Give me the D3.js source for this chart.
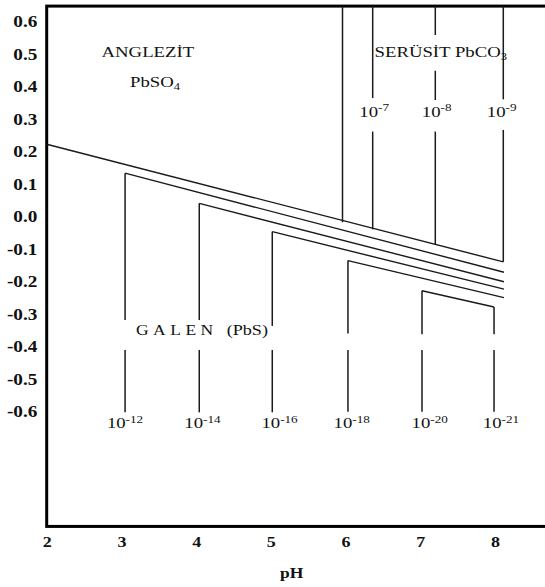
<!DOCTYPE html>
<html>
<head>
<meta charset="utf-8">
<script src="https://cdn.jsdelivr.net/npm/d3@7"></script>
<style>
  body { margin: 0; background: #fff; }
  svg { display: block; font-family: "Liberation Serif", "Times New Roman", serif; }
</style>
</head>
<body>
<div id="chart"></div>
<script>
// axis ticks
var phTicks = [2, 3, 4, 5, 6, 7, 8];
var ehTicks = [0.6, 0.5, 0.4, 0.3, 0.2, 0.1, 0.0, -0.1, -0.2, -0.3, -0.4, -0.5, -0.6];
var ehTickLabels = ["0.6", "0.5", "0.4", "0.3", "0.2", "0.1", "0.0", "-0.1", "-0.2", "-0.3", "-0.4", "-0.5", "-0.6"];

// frame extent (pH, Eh)
var phMin = 2, phMax = 8.75;
var ehMin = -0.953, ehMax = 0.648;

// sloping boundaries: start and end points
var slopeStartPH = [2.000, 3.049, 4.042, 5.019, 6.032, 7.023];
var slopeStartEh = [0.223, 0.134, 0.041, -0.046, -0.135, -0.228];
var slopeEndPH   = [8.111, 8.120, 8.120, 8.120, 8.120, 7.987];
var slopeEndEh   = [-0.139, -0.171, -0.200, -0.223, -0.249, -0.278];

// cerussite verticals (pieces between label gaps, Eh top/bottom)
var cerPH = [5.959, 6.363, 7.201, 8.111];
var cerPieces = [
  [[0.648, -0.017]],
  [[0.648, 0.365], [0.262, -0.039]],
  [[0.648, 0.559], [0.449, 0.359], [0.262, -0.087]],
  [[0.648, 0.361], [0.267, -0.139]]
];
var cerExp = ["-7", "-8", "-9"];
var cerLabelPH = [6.383, 7.219, 8.089];
var cerLabelEh = 0.308;

// galena verticals
var galPH = [3.049, 4.042, 5.019, 6.032, 7.023, 7.987];
var galPieces = [
  [[0.134, -0.318], [-0.410, -0.602]],
  [[0.041, -0.318], [-0.410, -0.602]],
  [[-0.046, -0.336], [-0.410, -0.602]],
  [[-0.135, -0.359], [-0.410, -0.600]],
  [[-0.228, -0.362], [-0.410, -0.600]],
  [[-0.278, -0.362], [-0.410, -0.600]]
];
var galExp = ["-12", "-14", "-16", "-18", "-20", "-21"];
var galLabelPH = [3.048, 4.085, 5.116, 6.082, 7.126, 8.080];
var galLabelEh = -0.651;

// region names
var regionNames = [
  {main: "ANGLEZİT", sub: "", ph: 3.354, eh: 0.492},
  {main: "PbSO", sub: "4", ph: 3.449, eh: 0.399},
  {main: "SERÜSİT PbCO", sub: "3", ph: 7.274, eh: 0.492}
];

var width = 545, height = 587;
var k = 1.25; // horizontal stretch of the lettering

var svg = d3.select("#chart")
  .append("svg")
    .attr("width", width)
    .attr("height", height);

var x = d3.scaleLinear().domain([2, 8]).range([46.7, 495]);
var y = d3.scaleLinear().domain([-0.6, 0.6]).range([411.7, 21.7]);

var ink = "#1a1a1a";

// Y axis labels
var yAxis = svg.append("g")
    .attr("transform", "translate(" + x(phMin) + ",0)")
    .call(d3.axisLeft(y).tickValues(ehTicks).tickSize(0)
      .tickFormat(function(d, i) { return ehTickLabels[i]; }));
yAxis.select(".domain").remove();
yAxis.selectAll("text")
    .attr("x", -9.4 / 1.2)
    .attr("transform", "scale(1.2,1)")
    .style("font-family", "Liberation Serif")
    .style("font-size", "16px")
    .style("font-weight", "bold")
    .attr("fill", "#111");

// X axis labels
var xAxis = svg.append("g")
    .attr("transform", "translate(0," + y(ehMin) + ")")
    .call(d3.axisBottom(x).tickValues(phTicks).tickSize(0).tickPadding(10)
      .tickFormat(d3.format("d")));
xAxis.select(".domain").remove();
xAxis.selectAll("text")
    .attr("transform", "scale(1.2,1)")
    .style("font-family", "Liberation Serif")
    .style("font-size", "15px")
    .style("font-weight", "bold")
    .attr("fill", "#111");

svg.append("text")
    .attr("transform", "translate(" + x(5.28) + "," + 578.3 + ") scale(" + k + ",1)")
    .attr("text-anchor", "middle")
    .style("font-size", "14px")
    .style("font-weight", "bold")
    .attr("fill", "#111")
    .text("pH");

// frame
svg.append("rect")
    .attr("x", x(phMin))
    .attr("y", y(ehMax))
    .attr("width", x(phMax) - x(phMin))
    .attr("height", y(ehMin) - y(ehMax))
    .attr("fill", "none")
    .attr("stroke", "#000")
    .attr("stroke-width", 3);

// sloping boundaries
svg.selectAll(".slope")
  .data(slopeStartPH)
  .enter()
  .append("line")
    .attr("class", "slope")
    .attr("x1", function(d, i) { return x(slopeStartPH[i]); })
    .attr("y1", function(d, i) { return y(slopeStartEh[i]); })
    .attr("x2", function(d, i) { return x(slopeEndPH[i]); })
    .attr("y2", function(d, i) { return y(slopeEndEh[i]); })
    .attr("stroke", ink)
    .attr("stroke-width", 1.4);

// vertical boundaries, drawn piece by piece
function verticals(phs, pieces) {
  var segs = [];
  phs.forEach(function(ph, i) {
    pieces[i].forEach(function(p) { segs.push({ph: ph, top: p[0], bottom: p[1]}); });
  });
  svg.append("g").selectAll("line")
    .data(segs)
    .enter()
    .append("line")
      .attr("x1", function(d) { return x(d.ph); })
      .attr("x2", function(d) { return x(d.ph); })
      .attr("y1", function(d) { return y(d.top); })
      .attr("y2", function(d) { return y(d.bottom); })
      .attr("stroke", ink)
      .attr("stroke-width", 1.5);
}
verticals(cerPH, cerPieces);
verticals(galPH, galPieces);

// concentration labels 10^n
function powerLabels(phs, eh, exps) {
  var t = svg.append("g").selectAll("text")
    .data(exps)
    .enter()
    .append("text")
      .attr("transform", function(d, i) {
        return "translate(" + x(phs[i]) + "," + y(eh) + ") scale(" + k + ",1)";
      })
      .attr("text-anchor", "middle")
      .attr("fill", "#111")
      .style("font-size", "15px");
  t.append("tspan").text("10");
  t.append("tspan")
      .attr("dy", -5.5)
      .style("font-size", "10.5px")
      .text(function(d) { return d; });
}
powerLabels(cerLabelPH, cerLabelEh, cerExp);
powerLabels(galLabelPH, galLabelEh, galExp);

// region names
var names = svg.append("g").selectAll("text")
  .data(regionNames)
  .enter()
  .append("text")
    .attr("transform", function(d) {
      return "translate(" + x(d.ph) + "," + y(d.eh) + ") scale(" + k + ",1)";
    })
    .attr("text-anchor", "middle")
    .attr("fill", "#111")
    .style("font-size", "15px");
names.append("tspan").text(function(d) { return d.main; });
names.append("tspan")
    .attr("dy", 3)
    .style("font-size", "10px")
    .text(function(d) { return d.sub; });

svg.append("text")
    .attr("transform", "translate(" + x(3.195) + "," + y(-0.364) + ") scale(" + k + ",1)")
    .attr("fill", "#111")
    .style("font-size", "14px")
    .style("letter-spacing", "3.6px")
    .text("GALEN");
svg.append("text")
    .attr("transform", "translate(" + x(4.409) + "," + y(-0.364) + ") scale(" + k + ",1)")
    .attr("fill", "#111")
    .style("font-size", "14.5px")
    .text("(PbS)");
</script>
</body>
</html>
